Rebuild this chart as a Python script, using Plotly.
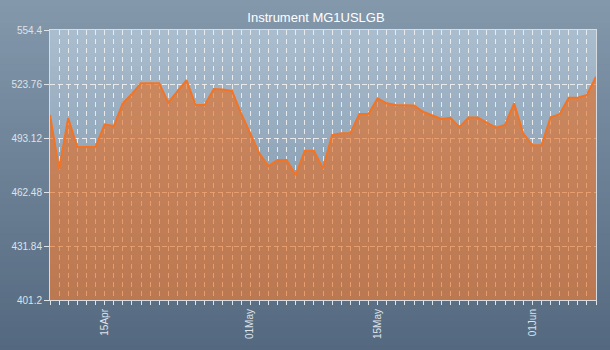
import datetime as dt
import plotly.graph_objects as go

# Daily closing values, 09 Apr – 08 Jun
start_date = "2024-04-09"
values = [
    506.2, 475.5, 504.3, 488.0, 488.0, 488.0, 500.9, 499.9, 512.8, 518.1,
    524.2, 524.2, 524.2, 513.2, 519.4, 526.0, 511.8, 511.8, 520.9, 520.7,
    519.8, 507.1, 495.8, 484.4, 477.2, 480.6, 480.6, 472.1, 485.9, 485.9,
    475.9, 494.8, 495.8, 495.8, 506.7, 506.7, 515.6, 512.8, 511.8, 511.8,
    511.6, 508.0, 505.8, 503.9, 504.6, 499.3, 504.8, 504.8, 501.8, 499.0,
    500.5, 512.8, 495.8, 489.0, 489.0, 504.8, 506.6, 516.0, 516.0, 517.5,
    527.9,
]
date_labels = {"2024-04-15": "15Apr", "2024-05-01": "01May",
               "2024-05-15": "15May", "2024-06-01": "01Jun"}
y_ticks = [401.2, 431.84, 462.48, 493.12, 523.76, 554.4]
y_tick_text = ["401.2", "431.84", "462.48", "493.12", "523.76", "554.4"]

d0 = dt.date.fromisoformat(start_date)
dates = [(d0 + dt.timedelta(days=i)).isoformat() for i in range(len(values))]
x_text = [date_labels.get(d, "") for d in dates]

W, H = 610, 350
ML, MR, MT, MB = 50, 14, 30, 50
PW, PH = W - ML - MR, H - MT - MB


def lerp(c1, c2, t):
    return "rgb(%d,%d,%d)" % tuple(round(a + (b - a) * t) for a, b in zip(c1, c2))


shapes = []
# page background: vertical gradient
n = 60
for k in range(n):
    p0, p1 = H * k / n, H * (k + 1) / n + 0.6
    shapes.append(dict(
        type="rect", xref="paper", yref="paper", layer="below",
        x0=-ML / PW, x1=1 + MR / PW,
        y0=1 - (p1 - MT) / PH, y1=1 - (p0 - MT) / PH,
        fillcolor=lerp((132, 152, 172), (84, 105, 127), k / (n - 1)),
        line=dict(width=0)))
# plot area background: vertical gradient
n = 45
for k in range(n):
    p0, p1 = PH * k / n, PH * (k + 1) / n + 0.6
    shapes.append(dict(
        type="rect", xref="paper", yref="paper", layer="below",
        x0=0, x1=1, y0=max(0, 1 - p1 / PH), y1=1 - p0 / PH,
        fillcolor=lerp((170, 189, 206), (120, 141, 164), k / (n - 1)),
        line=dict(width=0)))

fig = go.Figure()
fig.add_trace(go.Scatter(
    x=dates, y=values, mode="lines", fill="tozeroy",
    line=dict(color="#f27424", width=2),
    fillcolor="rgba(232,107,27,0.6)",
    hoverinfo="x+y",
))

fig.update_layout(
    width=W, height=H,
    margin=dict(l=ML, r=MR, t=MT, b=MB),
    paper_bgcolor="#6c8298",
    plot_bgcolor="rgba(0,0,0,0)",
    showlegend=False,
    shapes=shapes,
    title=dict(text="Instrument MG1USLGB", x=316 / W, xanchor="center",
               y=1 - 17 / H, yanchor="middle",
               font=dict(family="Liberation Sans", size=13, color="#ffffff")),
    font=dict(family="Liberation Sans", size=10, color="#dde3ea"),
    xaxis=dict(
        range=[dates[0], dates[-1]],
        tickmode="array", tickvals=dates, ticktext=x_text,
        tickangle=-90, ticks="outside", ticklen=4, tickcolor="#dfe4e9",
        showgrid=True, gridcolor="rgba(240,240,240,0.9)", gridwidth=1,
        griddash="5px,4px",
        showline=True, linecolor="#d6dce2", linewidth=1, mirror=True,
        zeroline=False, fixedrange=True,
    ),
    yaxis=dict(
        range=[401.2, 554.4],
        tickmode="array", tickvals=y_ticks, ticktext=y_tick_text,
        ticks="outside", ticklen=5, tickcolor="#dfe4e9",
        showgrid=True, gridcolor="rgba(240,240,240,0.9)", gridwidth=1,
        griddash="5px,3px",
        showline=True, linecolor="#d6dce2", linewidth=1, mirror=True,
        zeroline=False, fixedrange=True,
    ),
)

fig.write_html("out.html")
